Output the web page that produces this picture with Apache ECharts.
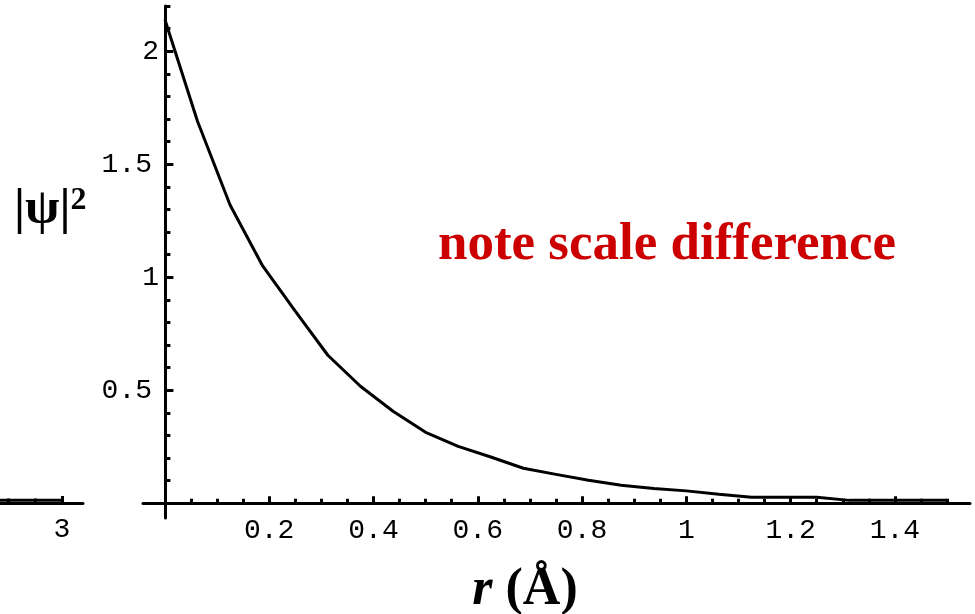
<!DOCTYPE html>
<html>
<head>
<meta charset="utf-8">
<script src="https://cdn.jsdelivr.net/npm/echarts@6/dist/echarts.min.js"></script>
<style>html,body{margin:0;padding:0;background:#fff;}#c{width:975px;height:614px;}</style>
</head>
<body>
<div id="c"></div>
<script>
// Data
const rValues = [0, 0.0625, 0.125, 0.1875, 0.25, 0.3125, 0.375, 0.4375, 0.5, 0.5625, 0.625, 0.6875, 0.75, 0.8125, 0.875, 0.9375, 1.0, 1.0625, 1.125, 1.1875, 1.25, 1.3125, 1.375, 1.4375, 1.5];
const psi2Values = [2.14, 1.69, 1.32, 1.05, 0.85, 0.655, 0.518, 0.407, 0.314, 0.252, 0.205, 0.155, 0.128, 0.102, 0.08, 0.066, 0.055, 0.04, 0.027, 0.027, 0.027, 0.013, 0.013, 0.013, 0.013];
const xMajorTicks = [0.2, 0.4, 0.6, 0.8, 1, 1.2, 1.4];
const xMinorTicks = [0.05, 0.1, 0.15, 0.25, 0.3, 0.35, 0.45, 0.5, 0.55, 0.65, 0.7, 0.75, 0.85, 0.9, 0.95, 1.05, 1.1, 1.15, 1.25, 1.3, 1.35, 1.45, 1.5];
const yMajorTicks = [0.5, 1, 1.5, 2];
const yMinorTicks = [0.1, 0.2, 0.3, 0.4, 0.6, 0.7, 0.8, 0.9, 1.1, 1.2, 1.3, 1.4, 1.6, 1.7, 1.8, 1.9, 2.1, 2.2];
// fragment of neighbouring plot at left edge
const fragR = [2.77, 3.0];
const fragPsi2 = [0.012, 0.012];
const fragMajorTicks = [3];
const fragMinorTicks = [2.8, 2.9];

const BLACK = '#000';
const LW = 3;
const MONO = '"Liberation Mono", monospace';
const tickFont = { fontFamily: MONO, fontSize: 28, color: BLACK };

function tick(len, vals) {
  return { show: true, inside: true, length: len, customValues: vals, lineStyle: { color: BLACK, width: LW } };
}
function base(opts, pos) {
  return Object.assign({
    type: 'value', position: pos, splitLine: { show: false },
    axisLine: { show: true, onZero: true, lineStyle: { color: BLACK, width: LW } },
    axisLabel: { show: false }
  }, opts);
}

const chart = echarts.init(document.getElementById('c'), null, { renderer: 'canvas' });
chart.setOption({
  animation: false,
  backgroundColor: '#fff',
  grid: [
    { left: 143, right: 5, top: 6, bottom: 96 },
    { left: 0, width: 83, top: 6, bottom: 111 }
  ],
  xAxis: [
    base({ gridIndex: 0, min: -0.042, max: 1.544, axisTick: tick(7, xMajorTicks),
      axisLabel: Object.assign({ show: true, margin: -1, customValues: xMajorTicks }, tickFont) }, 'bottom'),
    base({ gridIndex: 0, min: -0.042, max: 1.544, axisLine: { show: false, onZero: true },
      axisTick: tick(4.5, xMinorTicks) }, 'bottom'),
    base({ gridIndex: 1, min: 2.77, max: 3.078, axisLine: { show: true, onZero: false, lineStyle: { color: BLACK, width: LW } },
      axisTick: tick(7, fragMajorTicks),
      axisLabel: Object.assign({ show: true, margin: 13, customValues: fragMajorTicks }, tickFont) }, 'bottom'),
    base({ gridIndex: 1, min: 2.77, max: 3.078, axisLine: { show: false, onZero: false },
      axisTick: tick(4.5, fragMinorTicks) }, 'bottom')
  ],
  yAxis: [
    base({ gridIndex: 0, min: -0.065, max: 2.2, axisTick: tick(8.5, yMajorTicks),
      axisLabel: Object.assign({ show: true, margin: -16, customValues: yMajorTicks,
        formatter: v => (Number.isInteger(v) ? '{i|' : '{d|') + v + '}',
        rich: {
          i: { fontFamily: MONO, fontSize: 28, color: BLACK },
          d: { fontFamily: MONO, fontSize: 28, color: BLACK, padding: [0, 7, 0, 0] }
        } }, tickFont) }, 'left'),
    base({ gridIndex: 0, min: -0.065, max: 2.2, axisLine: { show: false, onZero: true },
      axisTick: tick(5.5, yMinorTicks) }, 'left'),
    base({ gridIndex: 1, min: 0, max: 2.2, show: false }, 'left')
  ],
  series: [
    { type: 'line', xAxisIndex: 0, yAxisIndex: 0, showSymbol: false, symbol: 'none', smooth: false,
      lineStyle: { color: BLACK, width: LW },
      data: rValues.map((r, i) => [r, psi2Values[i]]) },
    { type: 'line', xAxisIndex: 2, yAxisIndex: 2, showSymbol: false, symbol: 'none',
      lineStyle: { color: BLACK, width: LW },
      data: fragR.map((r, i) => [r, fragPsi2[i]]) }
  ],
  graphic: [
    { type: 'text', left: 14, top: 185, silent: true,
      style: { text: '{a||ψ|}{b|2}', rich: {
        a: { fontFamily: '"Liberation Serif", serif', fontWeight: 'bold', fontSize: 50, fill: BLACK },
        b: { fontFamily: '"Liberation Serif", serif', fontWeight: 'bold', fontSize: 32, fill: BLACK, verticalAlign: 'top' }
      } } },
    { type: 'text', x: 667, y: 245, silent: true,
      style: { text: 'note scale difference', fontFamily: '"Liberation Serif", serif', fontWeight: 'bold', fontSize: 53,
        fill: '#cc0000', align: 'center', verticalAlign: 'middle' } },
    { type: 'text', x: 525, y: 591, silent: true,
      style: { text: '{i|r}{n| (Å)}', align: 'center', verticalAlign: 'middle', rich: {
        i: { fontFamily: '"Liberation Serif", serif', fontWeight: 'bold', fontStyle: 'italic', fontSize: 52, fill: BLACK },
        n: { fontFamily: '"Liberation Serif", serif', fontWeight: 'bold', fontSize: 52, fill: BLACK }
      } } }
  ]
});
</script>
</body>
</html>
